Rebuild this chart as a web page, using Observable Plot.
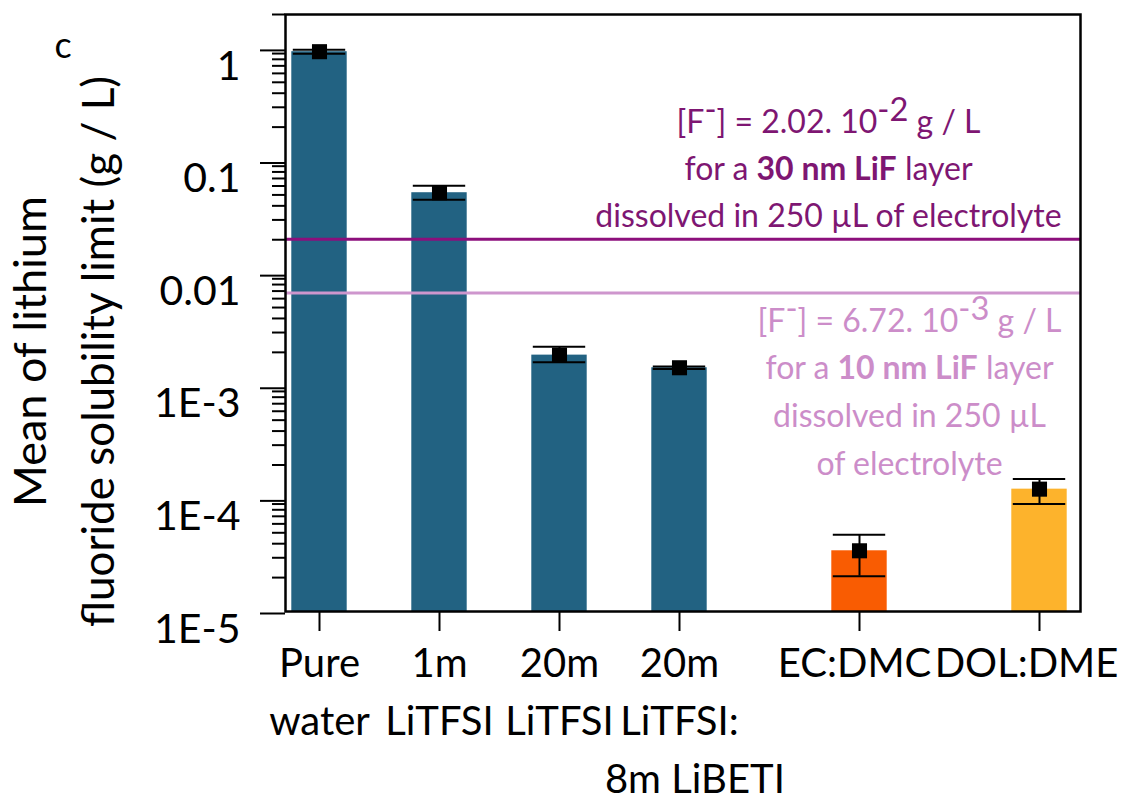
<!DOCTYPE html>
<html><head><meta charset="utf-8">
<script src="https://cdn.jsdelivr.net/npm/d3@7"></script>
<script src="https://cdn.jsdelivr.net/npm/@observablehq/plot@0.6"></script>
<style>
body{margin:0;background:#fff;}
#chart{width:1124px;height:805px;}
</style></head><body><div id="chart"></div>
<script>
// ---- data ----
const categories = ["Pure water","1m LiTFSI","20m LiTFSI","20m LiTFSI:8m LiBETI","EC:DMC","DOL:DME"];
const tickLabels = ["Pure\nwater","1m\nLiTFSI","20m\nLiTFSI","20m\nLiTFSI:\n\u00A0\u00A0\u00A08m LiBETI","EC:DMC","DOL:DME"];
const means   = [0.935, 0.0523, 0.00189, 0.00146, 3.46e-5, 1.22e-4];
const errLow  = [0.897, 0.0453, 0.00163, 0.00142, 2.06e-5, 8.99e-5];
const errHigh = [0.974, 0.0604, 0.00224, 0.00150, 4.80e-5, 1.50e-4];
const barColors = ["#226282","#226282","#226282","#226282","#F95C02","#FDB32C"];
const refValues = [0.0202, 0.00672];
const refLineColors = ["#8C0F7C","#CE96CD"];
const refTextColors = ["#7E1672","#CC8DC9"];
const refTexts = [
  ["[F^{-}] = 2.02. 10^{-2} g / L", "for a **30 nm LiF** layer", "dissolved in 250 µL of electrolyte"],
  ["[F^{-}] = 6.72. 10^{-3} g / L", "for a **10 nm LiF** layer", "dissolved in 250 µL", "of electrolyte"]
];
const yTickValues = [1e-5, 1e-4, 1e-3, 0.01, 0.1, 1];
const yTickLabels = ["1E-5","1E-4","1E-3","0.01","0.1","1"];
const yLabelLines = ["Mean of lithium", "fluoride solubility limit (g / L)"];
const panelLetter = "c";

// ---- build ----
const yDomain = [1e-5, 2];
const data = categories.map((c, i) => ({cat: c, mean: means[i], lo: errLow[i], hi: errHigh[i], color: barColors[i]}));
const refs = refValues.map((v, i) => ({value: v, color: refLineColors[i]}));
// band slots (with empty spacer slots to reproduce the wider gap on the right)
const xDomain = [categories[0], "_s1", categories[1], "_s2", categories[2], "_s3", categories[3], "_s4", "_s5", categories[4], "_s6", "_s7", categories[5]];
const minorTicks = d3.scaleLog().domain(yDomain).ticks().filter(t => !yTickValues.some(v => Math.abs(v - t) / v < 1e-6));
const xLabel = d => tickLabels[categories.indexOf(d)];

const annotationMarks = [];
const annDx = [-252, -171];
const annDy = [[-106, -59, -12], [39, 86, 134, 182]];
refTexts.forEach((lines, i) => {
  lines.forEach((line, j) => {
    annotationMarks.push(Plot.text([refs[i]], {
      y: "value", frameAnchor: "right", text: () => line,
      dx: annDx[i], dy: annDy[i][j], textAnchor: "middle", lineAnchor: "bottom",
      fill: refTextColors[i], fontSize: 32
    }));
  });
});

const xTextOpts = {tickSize: 20, tickPadding: 4, stroke: "none", lineHeight: 1.45, fontSize: 40, label: null, tickFormat: xLabel};

const plot = Plot.plot({
  width: 1124, height: 805,
  marginLeft: 285, marginRight: 44, marginTop: 14, marginBottom: 194,
  style: {fontFamily: "Lato, 'Open Sans', sans-serif", fontSize: "41px", color: "#000", background: "#fff", overflow: "visible"},
  x: {type: "band", domain: xDomain, padding: 0, insetRight: 6.5, axis: null},
  y: {type: "log", domain: yDomain, axis: null},
  marks: [
    Plot.barY(data, {x: "cat", y1: yDomain[0], y2: "mean", fill: "color", insetLeft: 2.3, insetRight: 2.3}),
    Plot.ruleY(refs, {y: "value", stroke: "color", strokeWidth: 3}),
    Plot.ruleX(data, {x: "cat", y1: "lo", y2: "hi", stroke: "#000", strokeWidth: 2}),
    Plot.tickY(data, {x: "cat", y: "lo", stroke: "#000", strokeWidth: 2, inset: 3.8}),
    Plot.tickY(data, {x: "cat", y: "hi", stroke: "#000", strokeWidth: 2, inset: 3.8}),
    Plot.dot(data, {x: "cat", y: "mean", symbol: "square", r: 8.5, fill: "#000"}),
    Plot.frame({stroke: "#000", strokeWidth: 2.5}),
    Plot.axisY({ticks: yTickValues, tickFormat: d => yTickLabels[yTickValues.findIndex(v => Math.abs(v - d) / v < 1e-6)],
      tickSize: 25, tickPadding: 20, strokeWidth: 2, lineAnchor: "top", dy: 2, fontSize: 41, label: null}),
    Plot.axisY({ticks: minorTicks, tickFormat: () => "", tickSize: 13, strokeWidth: 2, label: null}),
    // x tick lines
    Plot.axisX({ticks: categories, tickFormat: () => "", tickSize: 20, strokeWidth: 2, label: null}),
    // x tick labels (the two rightmost nudged left as in the original)
    Plot.axisX({...xTextOpts, ticks: categories.slice(0, 4)}),
    Plot.axisX({...xTextOpts, ticks: [categories[4]], dx: -5}),
    Plot.axisX({...xTextOpts, ticks: [categories[5]], dx: -13}),
    Plot.text([0], {frameAnchor: "left", text: () => yLabelLines[0], rotate: -90, dx: -240, dy: 38.5,
      textAnchor: "middle", lineAnchor: "bottom", fontSize: 45}),
    Plot.text([0], {frameAnchor: "left", text: () => yLabelLines[1], rotate: -90, dx: -172, dy: 38.5,
      textAnchor: "middle", lineAnchor: "bottom", fontSize: 44}),
    Plot.text([0], {frameAnchor: "top-left", text: () => panelLetter, dx: -231, dy: 43,
      textAnchor: "start", lineAnchor: "bottom", fontSize: 36}),
    ...annotationMarks
  ]
});

// rich-text markup: **bold** and ^{superscript}
d3.select(plot).selectAll("text").each(function () {
  const el = this;
  if (el.childElementCount) return;
  const s = el.textContent;
  if (!/\*\*|\^\{/.test(s)) return;
  el.textContent = "";
  const parts = s.split(/(\*\*[^*]+\*\*|\^\{[^}]+\})/).filter(p => p);
  let offset = 0;
  for (const p of parts) {
    const t = document.createElementNS("http://www.w3.org/2000/svg", "tspan");
    if (p.startsWith("^{")) {
      t.textContent = p.slice(2, -1);
      t.setAttribute("dy", -12 - offset);
      t.setAttribute("font-size", "1.02em");
      offset = -12;
    } else {
      if (offset) { t.setAttribute("dy", -offset); offset = 0; }
      if (p.startsWith("**")) { t.textContent = p.slice(2, -2); t.setAttribute("font-weight", "bold"); }
      else t.textContent = p;
    }
    el.appendChild(t);
  }
});

document.getElementById("chart").appendChild(plot);
</script>
</body></html>
